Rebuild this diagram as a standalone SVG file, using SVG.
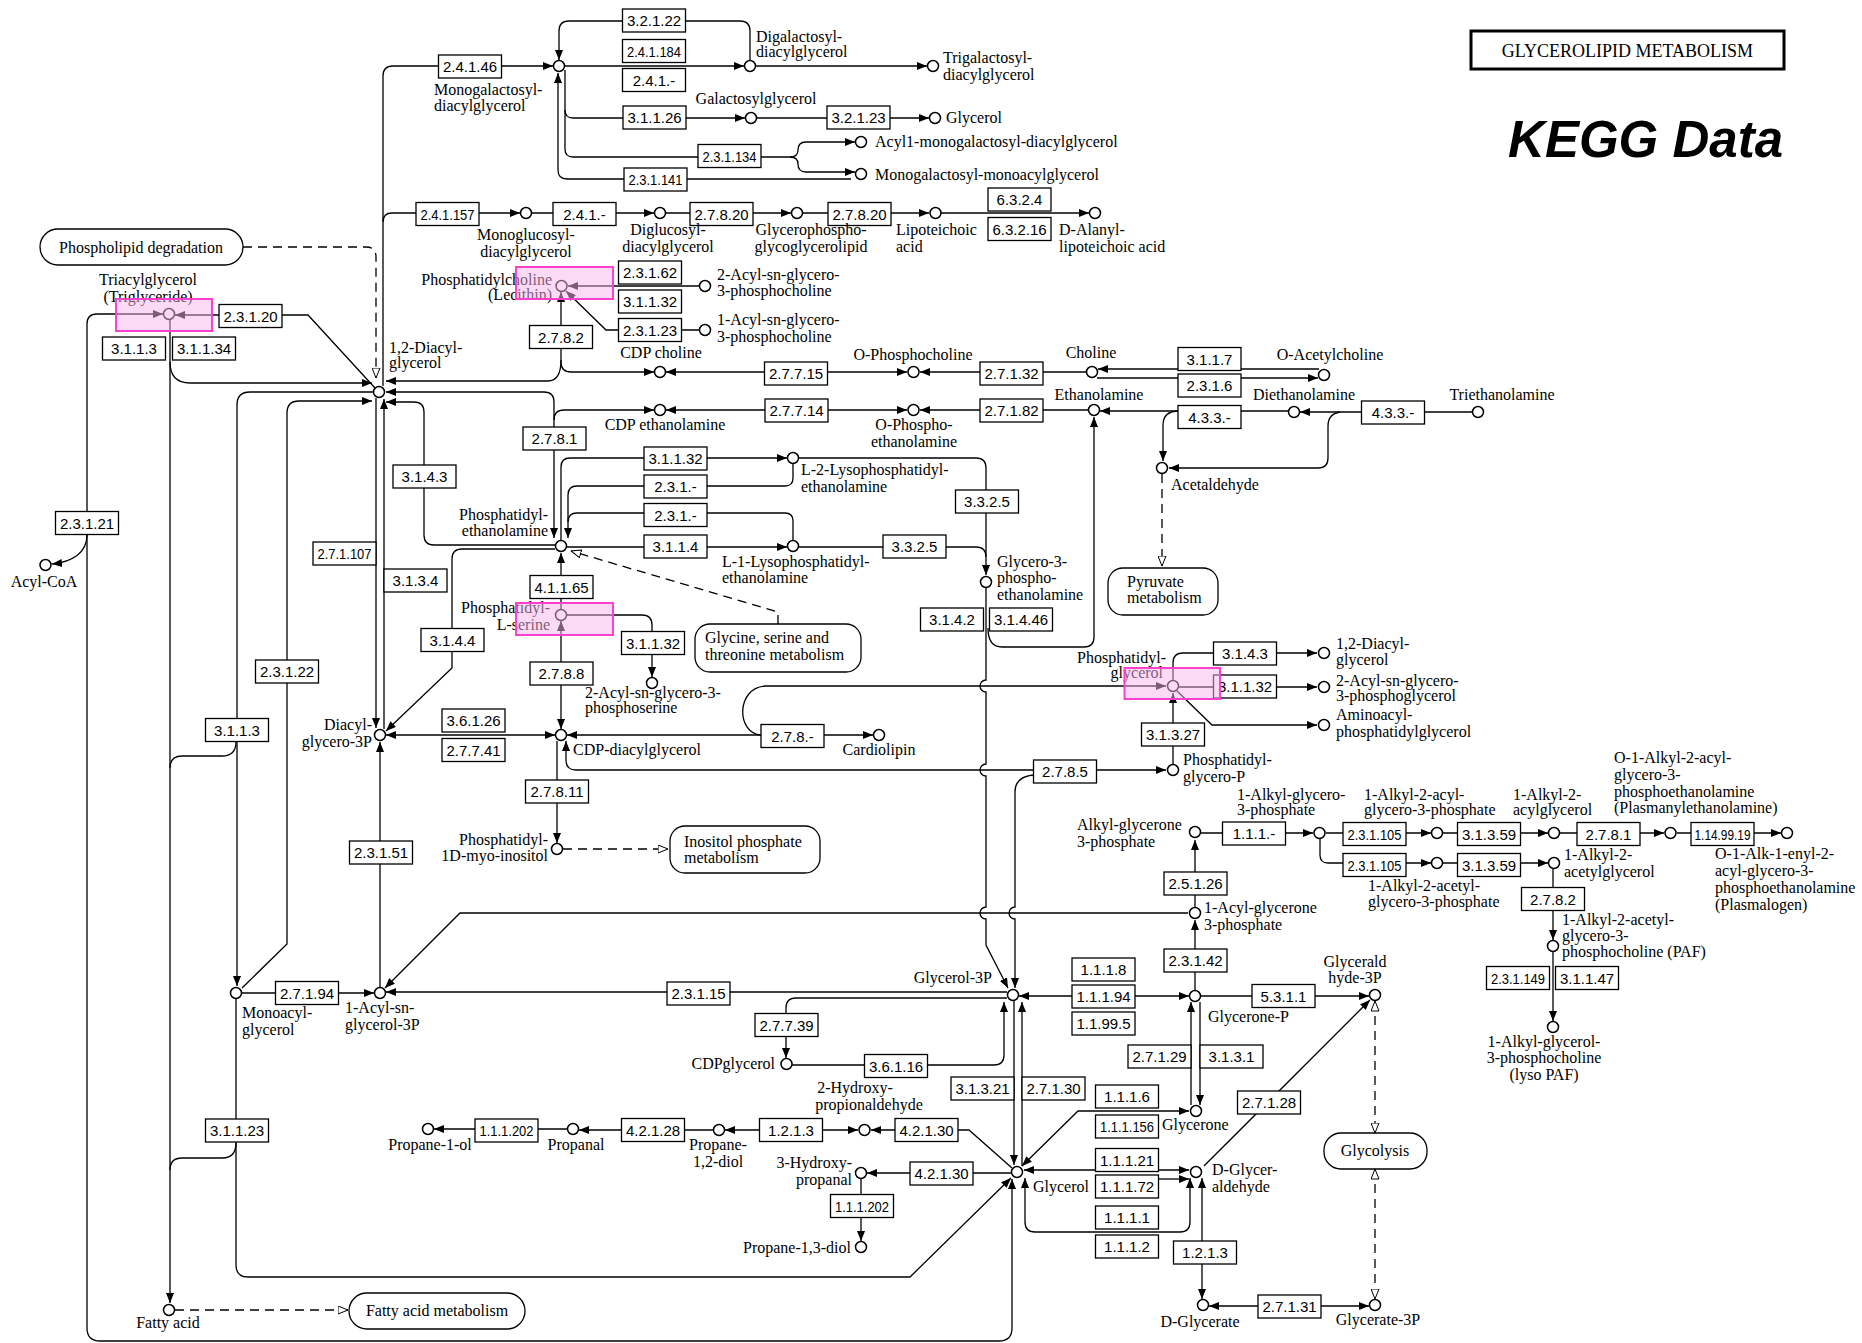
<svg xmlns="http://www.w3.org/2000/svg" width="1862" height="1343" viewBox="0 0 1862 1343">
<defs>
<style>
.l{fill:none;stroke:#000;stroke-width:1.3}
.d{fill:none;stroke:#000;stroke-width:1.3;stroke-dasharray:9 6}
.ec rect{fill:#fff;stroke:#000;stroke-width:1.3}
.ec text{font-family:'Liberation Sans',Arial,sans-serif;font-size:15px;text-anchor:middle;fill:#000}
.cp circle{fill:#fff;stroke:#000;stroke-width:1.5}
.cp text,.mp text{font-family:'Liberation Serif','Times New Roman',serif;font-size:16px;fill:#000}
.mp rect{fill:#fff;stroke:#000;stroke-width:1.3}
.m{text-anchor:middle}
.e{text-anchor:end}
.hl{fill:#f7b5ee;fill-opacity:0.5;stroke:#ff40cc;stroke-width:2}
</style>
<marker id="a" viewBox="0 0 10 8" refX="10" refY="4" markerWidth="10" markerHeight="8" markerUnits="userSpaceOnUse" orient="auto-start-reverse"><path d="M0,0L10,4L0,8z" fill="#000"/></marker>
<marker id="o" viewBox="0 0 11 9" refX="10.5" refY="4.5" markerWidth="11" markerHeight="9" markerUnits="userSpaceOnUse" orient="auto-start-reverse"><path d="M0.5,0.5L10.5,4.5L0.5,8.5z" fill="#fff" stroke="#000" stroke-width="1"/></marker>
</defs>
<rect width="1862" height="1343" fill="#fff"/>

<g id="connectors">
<path class="l" d="M383,386V76Q383,66 393,66H553" marker-end="url(#a)"/>
<path class="l" d="M383,222Q383,213 392,213H520" marker-end="url(#a)"/>
<path class="l" d="M750,60V31Q750,21 740,21H569Q559,21 559,31V60" marker-end="url(#a)"/>
<path class="l" d="M565,66H744" marker-end="url(#a)"/>
<path class="l" d="M756,66H927" marker-end="url(#a)"/>
<path class="l" d="M565,70V110Q565,118 573,118H745" marker-end="url(#a)"/>
<path class="l" d="M757,118H929" marker-end="url(#a)"/>
<path class="l" d="M565,110V149Q565,157 573,157H790Q798,157 798,150Q798,142 806,142H855" marker-end="url(#a)"/>
<path class="l" d="M790,157Q798,157 798,164Q798,172 806,172H855" marker-end="url(#a)"/>
<path class="l" d="M851,179H567Q558,179 558,170V73" marker-end="url(#a)"/>
<path class="l" d="M532,213H654" marker-end="url(#a)"/>
<path class="l" d="M666,213H791" marker-end="url(#a)"/>
<path class="l" d="M803,213H929" marker-end="url(#a)"/>
<path class="l" d="M941,213H1089" marker-end="url(#a)"/>
<path class="d" d="M243,247H366Q376,247 376,257V378" marker-end="url(#o)"/>
<path class="l" d="M375,388L308,315H175" marker-end="url(#a)"/>
<path class="l" d="M1012,1179V1328Q1012,1341 999,1341H100Q87,1341 87,1328V324Q87,314 97,314H163" marker-start="url(#a)" marker-end="url(#a)"/>
<path class="l" d="M87,535C87,553 72,562 52,564" marker-end="url(#a)"/>
<path class="l" d="M170,320V1303" marker-end="url(#a)"/>
<path class="l" d="M170,362Q170,383 190,383H372" marker-end="url(#a)"/>
<path class="l" d="M373,392H250Q237,392 237,405V986" marker-end="url(#a)"/>
<path class="l" d="M236,742Q236,756 222,756H182Q170,756 170,768"/>
<path class="l" d="M242,988L287,944V413Q287,401 299,401H372" marker-end="url(#a)"/>
<path class="l" d="M561,292V362Q561,372 571,372H654" marker-start="url(#a)" marker-end="url(#a)"/>
<path class="l" d="M561,360Q561,381 548,381H386" marker-end="url(#a)"/>
<path class="l" d="M699,286H568" marker-end="url(#a)"/>
<path class="l" d="M699,330H606L566,291" marker-end="url(#a)"/>
<path class="l" d="M386,392H544Q554,392 554,402V538" marker-start="url(#a)" marker-end="url(#a)"/>
<path class="l" d="M554,420Q554,410 564,410H654" marker-end="url(#a)"/>
<path class="l" d="M555,545H434Q424,545 424,535V412Q424,402 414,402H386" marker-end="url(#a)"/>
<path class="l" d="M376,398V728" marker-end="url(#a)"/>
<path class="l" d="M384,729V399" marker-end="url(#a)"/>
<path class="l" d="M555,549H462Q452,549 452,559V668L386,731" marker-end="url(#a)"/>
<path class="l" d="M386,735H555" marker-start="url(#a)" marker-end="url(#a)"/>
<path class="l" d="M561,621V729" marker-start="url(#a)" marker-end="url(#a)"/>
<path class="l" d="M561,609V553" marker-end="url(#a)"/>
<path class="l" d="M567,615H642Q652,615 652,625V677" marker-end="url(#a)"/>
<path class="l" d="M557,741V843" marker-end="url(#a)"/>
<path class="d" d="M563,849H668" marker-end="url(#o)"/>
<path class="l" d="M380,987V742" marker-end="url(#a)"/>
<path class="l" d="M242,993H374" marker-end="url(#a)"/>
<path class="l" d="M1007,992H386" marker-end="url(#a)"/>
<path class="l" d="M1188,913H460L385,988" marker-end="url(#a)"/>
<path class="l" d="M566,741V760Q566,770 576,770H1166" marker-start="url(#a)" marker-end="url(#a)"/>
<path class="l" d="M567,735H873" marker-start="url(#a)" marker-end="url(#a)"/>
<path class="l" d="M761,735C736,733 736,688 765,686H1166" marker-end="url(#a)"/>
<path class="l" d="M1173,764V693" marker-end="url(#a)"/>
<path class="l" d="M1173,680V663Q1173,653 1183,653H1317" marker-end="url(#a)"/>
<path class="l" d="M1179,687H1317" marker-end="url(#a)"/>
<path class="l" d="M1177,691L1212,725H1317" marker-end="url(#a)"/>
<path class="l" d="M799,458H976Q986,458 986,468V575" marker-end="url(#a)"/>
<path class="l" d="M799,547H976Q986,547 986,557"/>
<path class="l" d="M986,588V680A6,6 0 0 0 986,692V764A6,6 0 0 0 986,776V907A6,6 0 0 0 986,919V945L1008,988" marker-end="url(#a)"/>
<path class="l" d="M988,628Q988,647 1002,647H1084Q1094,647 1094,637V417" marker-end="url(#a)"/>
<path class="l" d="M1033,775Q1015,777 1015,792V907A6,6 0 0 0 1015,919V988" marker-end="url(#a)"/>
<path class="l" d="M561,540V467Q561,458 570,458H787" marker-end="url(#a)"/>
<path class="l" d="M793,464V478Q793,486 785,486H577Q568,486 568,495V538" marker-end="url(#a)"/>
<path class="l" d="M793,540V521Q793,513 785,513H577Q568,513 568,522"/>
<path class="l" d="M567,547H787" marker-end="url(#a)"/>
<path class="d" d="M778,624V612L571,551" marker-end="url(#o)"/>
<path class="l" d="M907,372H666" marker-start="url(#a)" marker-end="url(#a)"/>
<path class="l" d="M1086,372H920" marker-end="url(#a)"/>
<path class="l" d="M1319,369H1098" marker-end="url(#a)"/>
<path class="l" d="M1097,378H1318" marker-end="url(#a)"/>
<path class="l" d="M907,410H666" marker-start="url(#a)" marker-end="url(#a)"/>
<path class="l" d="M1088,410H920" marker-end="url(#a)"/>
<path class="l" d="M1288,411H1100" marker-end="url(#a)"/>
<path class="l" d="M1179,411Q1163,411 1163,425V461" marker-end="url(#a)"/>
<path class="l" d="M1472,412H1300" marker-end="url(#a)"/>
<path class="l" d="M1340,412Q1328,414 1328,426V458Q1328,468 1318,468H1169" marker-end="url(#a)"/>
<path class="d" d="M1162,474V566" marker-end="url(#o)"/>
<path class="l" d="M1195,907V840" marker-end="url(#a)"/>
<path class="l" d="M1195,990V920" marker-end="url(#a)"/>
<path class="l" d="M1201,833H1313" marker-end="url(#a)"/>
<path class="l" d="M1326,833H1431" marker-end="url(#a)"/>
<path class="l" d="M1443,833H1548" marker-end="url(#a)"/>
<path class="l" d="M1560,833H1664" marker-end="url(#a)"/>
<path class="l" d="M1677,833H1781" marker-end="url(#a)"/>
<path class="l" d="M1320,839V855Q1320,863 1328,863H1431" marker-end="url(#a)"/>
<path class="l" d="M1443,863H1548" marker-end="url(#a)"/>
<path class="l" d="M1553,869V940" marker-end="url(#a)"/>
<path class="l" d="M1553,952V1021" marker-end="url(#a)"/>
<path class="l" d="M1019,996H1189" marker-start="url(#a)" marker-end="url(#a)"/>
<path class="l" d="M1201,996H1369" marker-end="url(#a)"/>
<path class="l" d="M1007,998H796Q786,998 786,1008V1058" marker-end="url(#a)"/>
<path class="l" d="M792,1065H994Q1004,1065 1004,1055V1002" marker-end="url(#a)"/>
<path class="l" d="M1014,1001V1165" marker-end="url(#a)"/>
<path class="l" d="M1022,1166V1002" marker-end="url(#a)"/>
<path class="l" d="M1191,1105V1002" marker-end="url(#a)"/>
<path class="l" d="M1200,1002V1105" marker-end="url(#a)"/>
<path class="l" d="M1022,1166L1078,1111H1189" marker-start="url(#a)" marker-end="url(#a)"/>
<path class="l" d="M1024,1170H1189" marker-start="url(#a)" marker-end="url(#a)"/>
<path class="l" d="M1158,1179H1189" marker-end="url(#a)"/>
<path class="l" d="M1025,1178V1222Q1025,1232 1035,1232H1180Q1190,1232 1190,1222V1178" marker-start="url(#a)" marker-end="url(#a)"/>
<path class="l" d="M1202,1178V1299" marker-start="url(#a)" marker-end="url(#a)"/>
<path class="l" d="M1209,1306H1369" marker-start="url(#a)" marker-end="url(#a)"/>
<path class="l" d="M1204,1166L1370,1000" marker-end="url(#a)"/>
<path class="d" d="M1375,1001V1133" marker-start="url(#o)" marker-end="url(#o)"/>
<path class="d" d="M1375,1169V1299" marker-start="url(#o)" marker-end="url(#o)"/>
<path class="l" d="M1012,1168L969,1130H871" marker-end="url(#a)"/>
<path class="l" d="M858,1130H725" marker-start="url(#a)" marker-end="url(#a)"/>
<path class="l" d="M713,1130H579" marker-end="url(#a)"/>
<path class="l" d="M567,1129H434" marker-end="url(#a)"/>
<path class="l" d="M1011,1173H867" marker-end="url(#a)"/>
<path class="l" d="M861,1179V1241" marker-end="url(#a)"/>
<path class="l" d="M236,999V1265Q236,1277 248,1277H910L1011,1178" marker-end="url(#a)"/>
<path class="l" d="M236,1143Q236,1158 222,1158H182Q170,1158 170,1170"/>
<path class="d" d="M175,1310H348" marker-end="url(#o)"/>
</g>

<g id="enzymes" class="ec">
<g id="e1"><rect x="438.5" y="55" width="63" height="23"/><text x="470" y="72">2.4.1.46</text></g>
<g id="e2"><rect x="622.5" y="9" width="63" height="23"/><text x="654" y="26">3.2.1.22</text></g>
<g id="e3"><rect x="622.5" y="39.5" width="63" height="23"/><text x="654" y="56.5" textLength="54" lengthAdjust="spacingAndGlyphs">2.4.1.184</text></g>
<g id="e4"><rect x="622.5" y="68.5" width="63" height="23"/><text x="654" y="85.5">2.4.1.-</text></g>
<g id="e5"><rect x="623" y="106" width="63" height="23"/><text x="654.5" y="123">3.1.1.26</text></g>
<g id="e6"><rect x="827" y="106" width="63" height="23"/><text x="858.5" y="123">3.2.1.23</text></g>
<g id="e7"><rect x="698" y="144.5" width="63" height="23"/><text x="729.5" y="161.5" textLength="54" lengthAdjust="spacingAndGlyphs">2.3.1.134</text></g>
<g id="e8"><rect x="624" y="168" width="63" height="23"/><text x="655.5" y="185" textLength="54" lengthAdjust="spacingAndGlyphs">2.3.1.141</text></g>
<g id="e9"><rect x="416" y="202.5" width="63" height="23"/><text x="447.5" y="219.5" textLength="54" lengthAdjust="spacingAndGlyphs">2.4.1.157</text></g>
<g id="e10"><rect x="553" y="202.5" width="63" height="23"/><text x="584.5" y="219.5">2.4.1.-</text></g>
<g id="e11"><rect x="690" y="202.5" width="63" height="23"/><text x="721.5" y="219.5">2.7.8.20</text></g>
<g id="e12"><rect x="828" y="202.5" width="63" height="23"/><text x="859.5" y="219.5">2.7.8.20</text></g>
<g id="e13"><rect x="988" y="188" width="63" height="23"/><text x="1019.5" y="205">6.3.2.4</text></g>
<g id="e14"><rect x="988" y="217.5" width="63" height="23"/><text x="1019.5" y="234.5">6.3.2.16</text></g>
<g id="e15"><rect x="219" y="304.5" width="63" height="23"/><text x="250.5" y="321.5">2.3.1.20</text></g>
<g id="e16"><rect x="102.5" y="337" width="63" height="23"/><text x="134" y="354">3.1.1.3</text></g>
<g id="e17"><rect x="172.5" y="337" width="63" height="23"/><text x="204" y="354">3.1.1.34</text></g>
<g id="e18"><rect x="618.5" y="261" width="63" height="23"/><text x="650" y="278">2.3.1.62</text></g>
<g id="e19"><rect x="618.5" y="290" width="63" height="23"/><text x="650" y="307">3.1.1.32</text></g>
<g id="e20"><rect x="618.5" y="318.5" width="63" height="23"/><text x="650" y="335.5">2.3.1.23</text></g>
<g id="e21"><rect x="529.5" y="325.5" width="63" height="23"/><text x="561" y="342.5">2.7.8.2</text></g>
<g id="e22"><rect x="764.5" y="362" width="63" height="23"/><text x="796" y="379">2.7.7.15</text></g>
<g id="e23"><rect x="980" y="362" width="63" height="23"/><text x="1011.5" y="379">2.7.1.32</text></g>
<g id="e24"><rect x="1178" y="347.5" width="63" height="23"/><text x="1209.5" y="364.5">3.1.1.7</text></g>
<g id="e25"><rect x="1178" y="374" width="63" height="23"/><text x="1209.5" y="391">2.3.1.6</text></g>
<g id="e26"><rect x="1178" y="405.5" width="63" height="23"/><text x="1209.5" y="422.5">4.3.3.-</text></g>
<g id="e27"><rect x="1361.5" y="401" width="63" height="23"/><text x="1393" y="418">4.3.3.-</text></g>
<g id="e28"><rect x="765" y="399" width="63" height="23"/><text x="796.5" y="416">2.7.7.14</text></g>
<g id="e29"><rect x="980" y="399" width="63" height="23"/><text x="1011.5" y="416">2.7.1.82</text></g>
<g id="e30"><rect x="523" y="427" width="63" height="23"/><text x="554.5" y="444">2.7.8.1</text></g>
<g id="e31"><rect x="393" y="465" width="63" height="23"/><text x="424.5" y="482">3.1.4.3</text></g>
<g id="e32"><rect x="644" y="447" width="63" height="23"/><text x="675.5" y="464">3.1.1.32</text></g>
<g id="e33"><rect x="644" y="475" width="63" height="23"/><text x="675.5" y="492">2.3.1.-</text></g>
<g id="e34"><rect x="644" y="503.5" width="63" height="23"/><text x="675.5" y="520.5">2.3.1.-</text></g>
<g id="e35"><rect x="644" y="535" width="63" height="23"/><text x="675.5" y="552">3.1.1.4</text></g>
<g id="e36"><rect x="955.5" y="490" width="63" height="23"/><text x="987" y="507">3.3.2.5</text></g>
<g id="e37"><rect x="883" y="535" width="63" height="23"/><text x="914.5" y="552">3.3.2.5</text></g>
<g id="e38"><rect x="55.5" y="511.5" width="63" height="23"/><text x="87" y="528.5">2.3.1.21</text></g>
<g id="e39"><rect x="313" y="542" width="63" height="23"/><text x="344.5" y="559" textLength="54" lengthAdjust="spacingAndGlyphs">2.7.1.107</text></g>
<g id="e40"><rect x="384" y="569" width="63" height="23"/><text x="415.5" y="586">3.1.3.4</text></g>
<g id="e41"><rect x="530" y="575.5" width="63" height="23"/><text x="561.5" y="592.5">4.1.1.65</text></g>
<g id="e42"><rect x="421" y="628.5" width="63" height="23"/><text x="452.5" y="645.5">3.1.4.4</text></g>
<g id="e43"><rect x="621.5" y="631.5" width="63" height="23"/><text x="653" y="648.5">3.1.1.32</text></g>
<g id="e44"><rect x="530" y="662" width="63" height="23"/><text x="561.5" y="679">2.7.8.8</text></g>
<g id="e45"><rect x="920.5" y="608" width="63" height="23"/><text x="952" y="625">3.1.4.2</text></g>
<g id="e46"><rect x="989.5" y="608" width="63" height="23"/><text x="1021" y="625">3.1.4.46</text></g>
<g id="e47"><rect x="255.5" y="660" width="63" height="23"/><text x="287" y="677">2.3.1.22</text></g>
<g id="e48"><rect x="205.5" y="718.5" width="63" height="23"/><text x="237" y="735.5">3.1.1.3</text></g>
<g id="e49"><rect x="442" y="709" width="63" height="23"/><text x="473.5" y="726">3.6.1.26</text></g>
<g id="e50"><rect x="442" y="738.5" width="63" height="23"/><text x="473.5" y="755.5">2.7.7.41</text></g>
<g id="e51"><rect x="761" y="724.5" width="63" height="23"/><text x="792.5" y="741.5">2.7.8.-</text></g>
<g id="e52"><rect x="1213.5" y="642" width="63" height="23"/><text x="1245" y="659">3.1.4.3</text></g>
<g id="e53"><rect x="1213.5" y="675" width="63" height="23"/><text x="1245" y="692">3.1.1.32</text></g>
<g id="e54"><rect x="1141.5" y="723" width="63" height="23"/><text x="1173" y="740">3.1.3.27</text></g>
<g id="e55"><rect x="1033.5" y="760" width="63" height="23"/><text x="1065" y="777">2.7.8.5</text></g>
<g id="e56"><rect x="525.5" y="780" width="63" height="23"/><text x="557" y="797">2.7.8.11</text></g>
<g id="e57"><rect x="349.5" y="841" width="63" height="23"/><text x="381" y="858">2.3.1.51</text></g>
<g id="e58"><rect x="1222.5" y="822" width="63" height="23"/><text x="1254" y="839">1.1.1.-</text></g>
<g id="e59"><rect x="1343" y="822.5" width="63" height="23"/><text x="1374.5" y="839.5" textLength="54" lengthAdjust="spacingAndGlyphs">2.3.1.105</text></g>
<g id="e60"><rect x="1457.5" y="822.5" width="63" height="23"/><text x="1489" y="839.5">3.1.3.59</text></g>
<g id="e61"><rect x="1577" y="822.5" width="63" height="23"/><text x="1608.5" y="839.5">2.7.8.1</text></g>
<g id="e62"><rect x="1691" y="822.5" width="63" height="23"/><text x="1722.5" y="839.5" textLength="56" lengthAdjust="spacingAndGlyphs">1.14.99.19</text></g>
<g id="e63"><rect x="1343" y="853.5" width="63" height="23"/><text x="1374.5" y="870.5" textLength="54" lengthAdjust="spacingAndGlyphs">2.3.1.105</text></g>
<g id="e64"><rect x="1457.5" y="853.5" width="63" height="23"/><text x="1489" y="870.5">3.1.3.59</text></g>
<g id="e65"><rect x="1164" y="872" width="63" height="23"/><text x="1195.5" y="889">2.5.1.26</text></g>
<g id="e66"><rect x="1164" y="949" width="63" height="23"/><text x="1195.5" y="966">2.3.1.42</text></g>
<g id="e67"><rect x="1521.5" y="887.5" width="63" height="23"/><text x="1553" y="904.5">2.7.8.2</text></g>
<g id="e68"><rect x="1486.5" y="966.5" width="63" height="23"/><text x="1518" y="983.5" textLength="54" lengthAdjust="spacingAndGlyphs">2.3.1.149</text></g>
<g id="e69"><rect x="1555.5" y="966.5" width="63" height="23"/><text x="1587" y="983.5">3.1.1.47</text></g>
<g id="e70"><rect x="275.5" y="981.5" width="63" height="23"/><text x="307" y="998.5">2.7.1.94</text></g>
<g id="e71"><rect x="667" y="982" width="63" height="23"/><text x="698.5" y="999">2.3.1.15</text></g>
<g id="e72"><rect x="1072" y="958" width="63" height="23"/><text x="1103.5" y="975">1.1.1.8</text></g>
<g id="e73"><rect x="1072" y="985" width="63" height="23"/><text x="1103.5" y="1002">1.1.1.94</text></g>
<g id="e74"><rect x="1072" y="1012" width="63" height="23"/><text x="1103.5" y="1029">1.1.99.5</text></g>
<g id="e75"><rect x="1252" y="984.5" width="63" height="23"/><text x="1283.5" y="1001.5">5.3.1.1</text></g>
<g id="e76"><rect x="755" y="1013.5" width="63" height="23"/><text x="786.5" y="1030.5">2.7.7.39</text></g>
<g id="e77"><rect x="864.5" y="1054.5" width="63" height="23"/><text x="896" y="1071.5">3.6.1.16</text></g>
<g id="e78"><rect x="1128" y="1045" width="63" height="23"/><text x="1159.5" y="1062">2.7.1.29</text></g>
<g id="e79"><rect x="1200" y="1045" width="63" height="23"/><text x="1231.5" y="1062">3.1.3.1</text></g>
<g id="e80"><rect x="951" y="1077" width="63" height="23"/><text x="982.5" y="1094">3.1.3.21</text></g>
<g id="e81"><rect x="1022" y="1077" width="63" height="23"/><text x="1053.5" y="1094">2.7.1.30</text></g>
<g id="e82"><rect x="1095.5" y="1085" width="63" height="23"/><text x="1127" y="1102">1.1.1.6</text></g>
<g id="e83"><rect x="1095.5" y="1115" width="63" height="23"/><text x="1127" y="1132" textLength="54" lengthAdjust="spacingAndGlyphs">1.1.1.156</text></g>
<g id="e84"><rect x="1237.5" y="1091" width="63" height="23"/><text x="1269" y="1108">2.7.1.28</text></g>
<g id="e85"><rect x="475" y="1119" width="63" height="23"/><text x="506.5" y="1136" textLength="54" lengthAdjust="spacingAndGlyphs">1.1.1.202</text></g>
<g id="e86"><rect x="621.5" y="1118.5" width="63" height="23"/><text x="653" y="1135.5">4.2.1.28</text></g>
<g id="e87"><rect x="759.5" y="1118.5" width="63" height="23"/><text x="791" y="1135.5">1.2.1.3</text></g>
<g id="e88"><rect x="895" y="1118.5" width="63" height="23"/><text x="926.5" y="1135.5">4.2.1.30</text></g>
<g id="e89"><rect x="205.5" y="1119" width="63" height="23"/><text x="237" y="1136">3.1.1.23</text></g>
<g id="e90"><rect x="1095.5" y="1148.5" width="63" height="23"/><text x="1127" y="1165.5">1.1.1.21</text></g>
<g id="e91"><rect x="1095.5" y="1175" width="63" height="23"/><text x="1127" y="1192">1.1.1.72</text></g>
<g id="e92"><rect x="910" y="1162" width="63" height="23"/><text x="941.5" y="1179">4.2.1.30</text></g>
<g id="e93"><rect x="830.5" y="1194.5" width="63" height="23"/><text x="862" y="1211.5" textLength="54" lengthAdjust="spacingAndGlyphs">1.1.1.202</text></g>
<g id="e94"><rect x="1095.5" y="1206" width="63" height="23"/><text x="1127" y="1223">1.1.1.1</text></g>
<g id="e95"><rect x="1095.5" y="1235" width="63" height="23"/><text x="1127" y="1252">1.1.1.2</text></g>
<g id="e96"><rect x="1173.5" y="1241" width="63" height="23"/><text x="1205" y="1258">1.2.1.3</text></g>
<g id="e97"><rect x="1258" y="1295" width="63" height="23"/><text x="1289.5" y="1312">2.7.1.31</text></g>
</g>

<g id="compounds" class="cp">
<g id="n-mgdg"><circle cx="559" cy="66" r="5.5"/><text x="434" y="95">Monogalactosyl-</text><text x="434" y="111">diacylglycerol</text></g>
<g id="n-dgdg"><circle cx="750" cy="66" r="5.5"/><text x="756" y="42">Digalactosyl-</text><text x="756" y="57">diacylglycerol</text></g>
<g id="n-tgdg"><circle cx="933" cy="66" r="5.5"/><text x="943" y="63">Trigalactosyl-</text><text x="943" y="80">diacylglycerol</text></g>
<g id="n-galgly"><circle cx="751" cy="118" r="5.5"/><text class="m" x="756" y="104">Galactosylglycerol</text></g>
<g id="n-glycerol1"><circle cx="935" cy="118" r="5.5"/><text x="946" y="123">Glycerol</text></g>
<g id="n-acylmgdg"><circle cx="861" cy="142" r="5.5"/><text x="875" y="147">Acyl1-monogalactosyl-diacylglycerol</text></g>
<g id="n-mgmg"><circle cx="861" cy="174" r="5.5"/><text x="875" y="180">Monogalactosyl-monoacylglycerol</text></g>
<g id="n-mgldg"><circle cx="526" cy="213" r="5.5"/><text class="m" x="526" y="240">Monoglucosyl-</text><text class="m" x="526" y="257">diacylglycerol</text></g>
<g id="n-dgldg"><circle cx="660" cy="213" r="5.5"/><text class="m" x="668" y="235">Diglucosyl-</text><text class="m" x="668" y="252">diacylglycerol</text></g>
<g id="n-gpggl"><circle cx="797" cy="213" r="5.5"/><text class="m" x="811" y="235">Glycerophospho-</text><text class="m" x="811" y="252">glycoglycerolipid</text></g>
<g id="n-lta"><circle cx="935.5" cy="213" r="5.5"/><text x="896" y="235">Lipoteichoic</text><text x="896" y="252">acid</text></g>
<g id="n-dalta"><circle cx="1095" cy="213" r="5.5"/><text x="1059" y="235">D-Alanyl-</text><text x="1059" y="252">lipoteichoic acid</text></g>
<g id="n-tag"><circle cx="169" cy="314" r="5.5"/><text class="m" x="148" y="285">Triacylglycerol</text><text class="m" x="148" y="302">(Triglyceride)</text></g>
<g id="n-pc"><circle cx="561.5" cy="286" r="5.5"/><text class="e" x="552" y="285">Phosphatidylcholine</text><text class="e" x="552" y="300">(Lecithin)</text></g>
<g id="n-2agpc"><circle cx="705" cy="286" r="5.5"/><text x="717" y="280">2-Acyl-sn-glycero-</text><text x="717" y="296">3-phosphocholine</text></g>
<g id="n-1agpc"><circle cx="705" cy="330" r="5.5"/><text x="717" y="325">1-Acyl-sn-glycero-</text><text x="717" y="342">3-phosphocholine</text></g>
<g id="n-dag"><circle cx="379" cy="392" r="5.5"/><text x="389" y="353">1,2-Diacyl-</text><text x="389" y="368">glycerol</text></g>
<g id="n-cdpcho"><circle cx="660" cy="372" r="5.5"/><text class="m" x="661" y="358">CDP choline</text></g>
<g id="n-ophoscho"><circle cx="913.5" cy="372" r="5.5"/><text class="m" x="913" y="360">O-Phosphocholine</text></g>
<g id="n-choline"><circle cx="1092" cy="372" r="5.5"/><text class="m" x="1091" y="358">Choline</text></g>
<g id="n-acho"><circle cx="1324" cy="375" r="5.5"/><text class="m" x="1330" y="360">O-Acetylcholine</text></g>
<g id="n-cdpeth"><circle cx="660" cy="410" r="5.5"/><text class="m" x="665" y="430">CDP ethanolamine</text></g>
<g id="n-opeth"><circle cx="913.5" cy="410" r="5.5"/><text class="m" x="914" y="430">O-Phospho-</text><text class="m" x="914" y="447">ethanolamine</text></g>
<g id="n-eth"><circle cx="1094" cy="410" r="5.5"/><text class="m" x="1099" y="400">Ethanolamine</text></g>
<g id="n-deth"><circle cx="1294" cy="412" r="5.5"/><text class="m" x="1304" y="400">Diethanolamine</text></g>
<g id="n-teth"><circle cx="1478" cy="412" r="5.5"/><text class="m" x="1502" y="400">Triethanolamine</text></g>
<g id="n-acald"><circle cx="1162" cy="468" r="5.5"/><text x="1171" y="490">Acetaldehyde</text></g>
<g id="n-l2lpe"><circle cx="793" cy="458" r="5.5"/><text x="801" y="475">L-2-Lysophosphatidyl-</text><text x="801" y="492">ethanolamine</text></g>
<g id="n-l1lpe"><circle cx="793" cy="546" r="5.5"/><text x="722" y="567">L-1-Lysophosphatidyl-</text><text x="722" y="583">ethanolamine</text></g>
<g id="n-gpe"><circle cx="986" cy="582" r="5.5"/><text x="997" y="567">Glycero-3-</text><text x="997" y="583">phospho-</text><text x="997" y="600">ethanolamine</text></g>
<g id="n-pe"><circle cx="561" cy="546" r="5.5"/><text class="e" x="548" y="520">Phosphatidyl-</text><text class="e" x="548" y="536">ethanolamine</text></g>
<g id="n-ps"><circle cx="561" cy="615" r="5.5"/><text class="e" x="550" y="613">Phosphatidyl-</text><text class="e" x="550" y="630">L-serine</text></g>
<g id="n-2agps"><circle cx="652" cy="683" r="5.5"/><text x="585" y="698">2-Acyl-sn-glycero-3-</text><text x="585" y="713">phosphoserine</text></g>
<g id="n-acylcoa"><circle cx="45.5" cy="565" r="5.5"/><text class="m" x="44" y="587">Acyl-CoA</text></g>
<g id="n-dag3p"><circle cx="380" cy="735" r="5.5"/><text class="e" x="372" y="730">Diacyl-</text><text class="e" x="372" y="747">glycero-3P</text></g>
<g id="n-cdpdag"><circle cx="561" cy="735" r="5.5"/><text x="573" y="755">CDP-diacylglycerol</text></g>
<g id="n-cl"><circle cx="879" cy="735" r="5.5"/><text class="m" x="879" y="755">Cardiolipin</text></g>
<g id="n-pg"><circle cx="1173" cy="686" r="5.5"/><text class="e" x="1166" y="663">Phosphatidyl-</text><text class="e" x="1163" y="678">glycerol</text></g>
<g id="n-dag2"><circle cx="1324" cy="653" r="5.5"/><text x="1336" y="649">1,2-Diacyl-</text><text x="1336" y="665">glycerol</text></g>
<g id="n-2agpg"><circle cx="1324" cy="687" r="5.5"/><text x="1336" y="686">2-Acyl-sn-glycero-</text><text x="1336" y="701">3-phosphoglycerol</text></g>
<g id="n-aapg"><circle cx="1324" cy="725" r="5.5"/><text x="1336" y="720">Aminoacyl-</text><text x="1336" y="737">phosphatidylglycerol</text></g>
<g id="n-pgp"><circle cx="1173" cy="770" r="5.5"/><text x="1183" y="765">Phosphatidyl-</text><text x="1183" y="782">glycero-P</text></g>
<g id="n-pi"><circle cx="557" cy="849" r="5.5"/><text class="e" x="548" y="845">Phosphatidyl-</text><text class="e" x="548" y="861">1D-myo-inositol</text></g>
<g id="n-agnp"><circle cx="1195" cy="832" r="5.5"/><text x="1077" y="830">Alkyl-glycerone</text><text x="1077" y="847">3-phosphate</text></g>
<g id="n-ag3p"><circle cx="1319.5" cy="833" r="5.5"/><text x="1237" y="800">1-Alkyl-glycero-</text><text x="1237" y="815">3-phosphate</text></g>
<g id="n-aag3p"><circle cx="1437" cy="833" r="5.5"/><text x="1364" y="800">1-Alkyl-2-acyl-</text><text x="1364" y="815">glycero-3-phosphate</text></g>
<g id="n-aag"><circle cx="1554" cy="833" r="5.5"/><text x="1513" y="800">1-Alkyl-2-</text><text x="1513" y="815">acylglycerol</text></g>
<g id="n-pme"><circle cx="1670.5" cy="833" r="5.5"/><text x="1614" y="763">O-1-Alkyl-2-acyl-</text><text x="1614" y="780">glycero-3-</text><text x="1614" y="797">phosphoethanolamine</text><text x="1614" y="813">(Plasmanylethanolamine)</text></g>
<g id="n-plasm"><circle cx="1787" cy="833" r="5.5"/><text x="1715" y="859">O-1-Alk-1-enyl-2-</text><text x="1715" y="876">acyl-glycero-3-</text><text x="1715" y="893">phosphoethanolamine</text><text x="1715" y="910">(Plasmalogen)</text></g>
<g id="n-aacg3p"><circle cx="1437" cy="863" r="5.5"/><text x="1368" y="891">1-Alkyl-2-acetyl-</text><text x="1368" y="907">glycero-3-phosphate</text></g>
<g id="n-aacg"><circle cx="1554" cy="863" r="5.5"/><text x="1564" y="860">1-Alkyl-2-</text><text x="1564" y="877">acetylglycerol</text></g>
<g id="n-paf"><circle cx="1553" cy="946" r="5.5"/><text x="1562" y="925">1-Alkyl-2-acetyl-</text><text x="1562" y="941">glycero-3-</text><text x="1562" y="957">phosphocholine (PAF)</text></g>
<g id="n-lpaf"><circle cx="1553" cy="1027" r="5.5"/><text class="m" x="1544" y="1047">1-Alkyl-glycerol-</text><text class="m" x="1544" y="1063">3-phosphocholine</text><text class="m" x="1544" y="1080">(lyso PAF)</text></g>
<g id="n-acdhap"><circle cx="1195" cy="913" r="5.5"/><text x="1204" y="913">1-Acyl-glycerone</text><text x="1204" y="930">3-phosphate</text></g>
<g id="n-dhap"><circle cx="1195" cy="996" r="5.5"/><text x="1208" y="1022">Glycerone-P</text></g>
<g id="n-ga3p"><circle cx="1375" cy="995" r="5.5"/><text class="m" x="1355" y="967">Glycerald</text><text class="m" x="1355" y="983">hyde-3P</text></g>
<g id="n-mag"><circle cx="236" cy="993" r="5.5"/><text x="242" y="1018">Monoacyl-</text><text x="242" y="1035">glycerol</text></g>
<g id="n-lpa"><circle cx="380" cy="993" r="5.5"/><text x="345" y="1013">1-Acyl-sn-</text><text x="345" y="1030">glycerol-3P</text></g>
<g id="n-g3p"><circle cx="1013" cy="995" r="5.5"/><text class="e" x="992" y="983">Glycerol-3P</text></g>
<g id="n-cdpgly"><circle cx="786.5" cy="1064" r="5.5"/><text class="e" x="775" y="1069">CDPglycerol</text></g>
<g id="n-glycerone"><circle cx="1196" cy="1111" r="5.5"/><text x="1162" y="1130">Glycerone</text></g>
<g id="n-2hpa"><circle cx="864.5" cy="1130" r="5.5"/><text class="m" x="855" y="1093">2-Hydroxy-</text><text class="m" x="869" y="1110">propionaldehyde</text></g>
<g id="n-glycerol"><circle cx="1017" cy="1172" r="5.5"/><text x="1033" y="1192">Glycerol</text></g>
<g id="n-3hpa"><circle cx="861" cy="1173" r="5.5"/><text class="e" x="852" y="1168">3-Hydroxy-</text><text class="e" x="852" y="1185">propanal</text></g>
<g id="n-dga"><circle cx="1196" cy="1172" r="5.5"/><text x="1212" y="1175">D-Glycer-</text><text x="1212" y="1192">aldehyde</text></g>
<g id="n-prol"><circle cx="428" cy="1129" r="5.5"/><text class="m" x="430" y="1150">Propane-1-ol</text></g>
<g id="n-propanal"><circle cx="573" cy="1129" r="5.5"/><text class="m" x="576" y="1150">Propanal</text></g>
<g id="n-12pd"><circle cx="719" cy="1130" r="5.5"/><text class="m" x="718" y="1150">Propane-</text><text class="m" x="718" y="1167">1,2-diol</text></g>
<g id="n-13pd"><circle cx="861" cy="1247" r="5.5"/><text class="e" x="851" y="1253">Propane-1,3-diol</text></g>
<g id="n-dglycerate"><circle cx="1203" cy="1305" r="5.5"/><text class="m" x="1200" y="1327">D-Glycerate</text></g>
<g id="n-g3pate"><circle cx="1375" cy="1305" r="5.5"/><text class="m" x="1378" y="1325">Glycerate-3P</text></g>
<g id="n-fa"><circle cx="169" cy="1310" r="5.5"/><text class="m" x="168" y="1328">Fatty acid</text></g>
</g>

<g id="maps" class="mp">
<g id="m-pld"><rect x="40" y="229" width="203" height="36" rx="18"/><text class="m" x="141" y="253">Phospholipid degradation</text></g>
<g id="m-gly"><rect x="695" y="624" width="166" height="48" rx="15"/><text x="705" y="643">Glycine, serine and</text><text x="705" y="660">threonine metabolism</text></g>
<g id="m-ino"><rect x="670" y="826" width="150" height="47" rx="15"/><text x="684" y="847">Inositol phosphate</text><text x="684" y="863">metabolism</text></g>
<g id="m-pyr"><rect x="1108" y="568" width="110" height="47" rx="15"/><text x="1127" y="587">Pyruvate</text><text x="1127" y="603">metabolism</text></g>
<g id="m-glyc"><rect x="1324" y="1133" width="103" height="36" rx="17"/><text class="m" x="1375" y="1156">Glycolysis</text></g>
<g id="m-fam"><rect x="349" y="1293" width="176" height="36" rx="18"/><text class="m" x="437" y="1316">Fatty acid metabolism</text></g>
</g>

<g id="highlights">
<rect class="hl" x="116" y="299" width="96" height="32"/>
<rect class="hl" x="516" y="267" width="97" height="32"/>
<rect class="hl" x="516" y="603" width="97" height="32"/>
<rect class="hl" x="1124.5" y="668" width="95.5" height="31"/>
</g>

<g id="title">
<rect x="1471" y="31" width="313" height="38" fill="#fff" stroke="#000" stroke-width="3"/>
<text x="1627.5" y="57" text-anchor="middle" font-family="'Liberation Serif','Times New Roman',serif" font-size="18">GLYCEROLIPID METABOLISM</text>
<text x="1783" y="157" text-anchor="end" font-family="'Liberation Sans',Arial,sans-serif" font-size="51" font-weight="bold" font-style="italic">KEGG Data</text>
</g>
</svg>
